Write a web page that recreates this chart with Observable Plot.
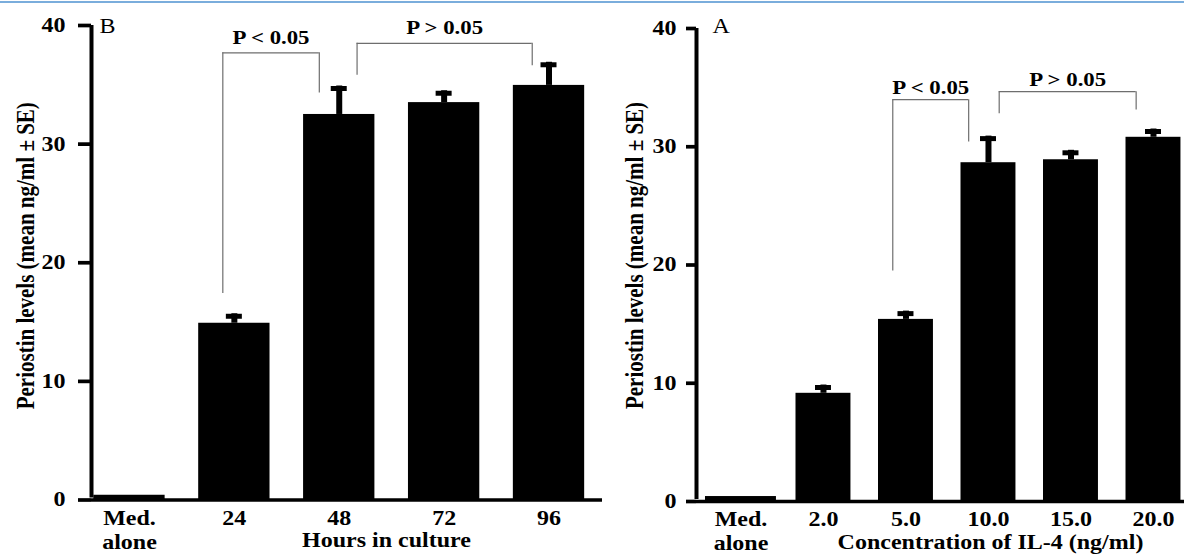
<!DOCTYPE html>
<html><head><meta charset="utf-8">
<script src="https://cdn.jsdelivr.net/npm/d3@7"></script>
<script src="https://cdn.jsdelivr.net/npm/@observablehq/plot@0.6"></script>
<style>
body{margin:0;background:#fff;}
#wrap{position:relative;width:1184px;height:554px;overflow:hidden;background:#fff;}
#topline{position:absolute;left:0;top:1px;width:1184px;height:2px;background:#7aaddc;}
#left{position:absolute;left:0;top:0;}
#right{position:absolute;left:610px;top:0;}
</style></head><body>
<div id="wrap"><div id="topline"></div><div id="left"></div><div id="right"></div></div>
<script>
// ---- Panel B: hours in culture ----
const hoursCats = ["Med.\nalone", "24", "48", "72", "96"];
const hoursMean = [0.4, 14.9, 32.5, 33.5, 34.95];
const hoursSE = [null, 0.8, 2.4, 1.0, 1.95];
const hoursBrLabel = ["P < 0.05", "P > 0.05"];
const hoursBrFrom = [0.89, 2.17];
const hoursBrTo = [1.81, 3.84];
const hoursBrTop = [37.7, 38.5];
const hoursBrFromLow = [17.4, 35.8];
const hoursBrToLow = [34.3, 36.6];

// ---- Panel A: IL-4 concentration ----
const il4Cats = ["Med.\nalone", "2.0", "5.0", "10.0", "15.0", "20.0"];
const il4Mean = [0.42, 9.15, 15.4, 28.65, 28.9, 30.8];
const il4SE = [null, 0.7, 0.7, 2.25, 0.8, 0.7];
const il4BrLabel = ["P < 0.05", "P > 0.05"];
const il4BrFrom = [1.84, 3.13];
const il4BrTo = [2.76, 4.79];
const il4BrTop = [33.98, 34.66];
const il4BrFromLow = [19.5, 32.8];
const il4BrToLow = [30.4, 33.1];

const yTicks = [0, 10, 20, 30, 40];
const yLabel = "Periostin levels (mean ng/ml \u00b1 SE)";

function stretch(svg, s) {
  svg.querySelectorAll("text").forEach(t => {
    const tr = t.getAttribute("transform");
    if (tr) {
      const m = tr.match(/^\s*translate\([^)]*\)/);
      if (m) t.setAttribute("transform", m[0] + ` scale(${s},1)` + tr.slice(m[0].length));
      else t.setAttribute("transform", `scale(${s},1) ` + tr);
    } else {
      const x = parseFloat(t.getAttribute("x")) || 0;
      t.setAttribute("x", 0);
      t.setAttribute("transform", `translate(${x},0) scale(${s},1)`);
    }
  });
}

function panel(o) {
  const idx = o.cats.map((_, i) => i);
  const bars = idx.map(i => ({i, m: o.mean[i], hw: o.halfW(i)}));
  const errs = idx.filter(i => o.se[i] != null).map(i => ({i, m: o.mean[i], top: o.mean[i] + o.se[i]}));
  const brs = o.br.label.map((l, k) => ({l, a: o.br.from[k], b: o.br.to[k], top: o.br.top[k], aLow: o.br.fromLow[k], bLow: o.br.toLow[k]}));
  const gray = "#6e6e6e";
  const svg = Plot.plot({
    width: o.width, height: 554,
    marginLeft: o.mL, marginRight: o.mR, marginTop: o.mT, marginBottom: o.mB,
    x: {type: "linear", domain: o.xDomain, label: null},
    y: {domain: [0, 40], label: null},
    style: {fontFamily: "'Liberation Serif', 'Times New Roman', serif", fontSize: "20px", fontWeight: "bold", color: "black", background: "transparent", overflow: "visible"},
    marks: [
      Plot.rect(bars, {x1: d => d.i - d.hw, x2: d => d.i + d.hw, y1: 0, y2: d => d.m, fill: "black"}),
      Plot.ruleX(errs, {x: "i", y1: "m", y2: "top", strokeWidth: 6, stroke: "black"}),
      Plot.ruleY(errs, {x1: "i", x2: "i", y: "top", insetLeft: -8, insetRight: -8, strokeWidth: 5, dy: 2.5, stroke: "black"}),
      Plot.ruleX(brs, {x: "a", y1: "aLow", y2: "top", stroke: gray, strokeWidth: 1.2}),
      Plot.ruleX(brs, {x: "b", y1: "bLow", y2: "top", stroke: gray, strokeWidth: 1.2}),
      Plot.ruleY(brs, {y: "top", x1: "a", x2: "b", stroke: gray, strokeWidth: 1.2}),
      Plot.text(brs, {x: d => (d.a + d.b) / 2, y: "top", text: "l", dy: o.brDy, fontSize: 19, fill: "black", lineAnchor: "middle"}),
      Plot.ruleY([0], {strokeWidth: 3.7, stroke: "black"}),
      Plot.ruleX([o.xDomain[0]], {y1: 0, y2: 40, strokeWidth: 4, insetTop: -2, stroke: "black"}),
      Plot.axisY({ticks: yTicks, tickSize: o.tickSize, tickPadding: o.tickSize, strokeWidth: 3.7, label: null}),
      Plot.axisX({ticks: idx, tickFormat: i => o.cats[i], tickSize: 0, tickPadding: o.tickPad, lineHeight: 1.2, label: null}),
      Plot.text([yLabel], {text: d => d, frameAnchor: "left", textAnchor: "middle", lineAnchor: "middle", rotate: -90, dx: o.yLabelDx, dy: o.yLabelDy, fontSize: 21, fill: "black"}),
      Plot.text([o.title], {text: d => d, frameAnchor: "bottom", textAnchor: "middle", lineAnchor: "middle", dx: o.titleDx, dy: o.titleDy, fill: "black"}),
      Plot.text([o.letter], {text: d => d, frameAnchor: "top-left", textAnchor: "start", lineAnchor: "middle", dx: o.letterDx, dy: o.letterDy, fontWeight: "normal", fill: "black"})
    ]
  });
  stretch(svg, 1.2);
  return svg;
}

document.getElementById("left").appendChild(panel({
  cats: hoursCats, mean: hoursMean, se: hoursSE,
  br: {label: hoursBrLabel, from: hoursBrFrom, to: hoursBrTo, top: hoursBrTop, fromLow: hoursBrFromLow, toLow: hoursBrToLow},
  xDomain: [-0.362, 4.51], width: 610, mL: 91, mR: 8, mT: 25, mB: 54.5,
  halfW: i => 0.34, brDy: -15, tickSize: 13, tickPad: 8,
  yLabelDx: -66, yLabelDy: -7,
  title: "Hours in culture", titleDx: 39.5, titleDy: 41,
  letter: "B", letterDx: 8, letterDy: 1.1
}));

document.getElementById("right").appendChild(panel({
  cats: il4Cats, mean: il4Mean, se: il4SE,
  br: {label: il4BrLabel, from: il4BrFrom, to: il4BrTo, top: il4BrTop, fromLow: il4BrFromLow, toLow: il4BrToLow},
  xDomain: [-0.539, 5.376], width: 574, mL: 86, mR: 0, mT: 28, mB: 53,
  halfW: i => (i === 0 ? 0.43 : 0.333), brDy: -12, tickSize: 10, tickPad: 7,
  yLabelDx: -62, yLabelDy: -9.5,
  title: "Concentration of IL-4 (ng/ml)", titleDx: 50, titleDy: 41.5,
  letter: "A", letterDx: 16, letterDy: -2.4
}));
</script>
</body></html>
